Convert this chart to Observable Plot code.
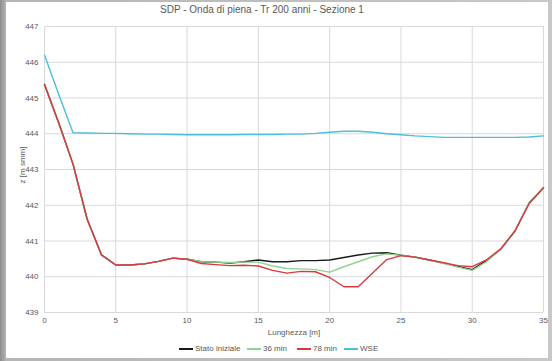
<!DOCTYPE html>
<html>
<head>
<meta charset="utf-8">
<script src="https://cdn.jsdelivr.net/npm/d3@7"></script>
<script src="https://cdn.jsdelivr.net/npm/@observablehq/plot@0.6"></script>
<style>
  html, body { margin: 0; padding: 0; }
  body { width: 552px; height: 361px; background: linear-gradient(to right, #8c8c8c 0px, #b5b5b5 6px, #c8c8c8 100%); position: relative; overflow: hidden; font-family: "Liberation Sans", Arial, sans-serif; }
  #card { position: absolute; left: 6px; top: 2px; width: 542px; height: 356px; background: #fff; }
  #title { position: absolute; left: 0; top: 4px; width: 524px; text-align: center; font-size: 10px; color: #595959; }
  #chart { position: absolute; left: 0; top: 20px; }
  #ylabel { position: absolute; left: 22px; top: 165px; transform: translate(-50%, -50%) rotate(-90deg); font-size: 8px; color: #595959; white-space: nowrap; }
  #xlabel { position: absolute; left: 294px; top: 328px; transform: translateX(-50%); font-size: 8px; color: #595959; white-space: nowrap; }
  #legend { position: absolute; left: 0; top: 344px; width: 552px; height: 12px; font-size: 8px; color: #595959; }
  .li { position: absolute; top: 0; display: flex; align-items: center; white-space: nowrap; }
  .sw { display: inline-block; width: 14px; height: 2px; margin-right: 2px; }
</style>
</head>
<body>
<div id="card"></div>
<div id="title">SDP - Onda di piena - Tr 200 anni - Sezione 1</div>
<div id="chart"></div>
<div id="ylabel">z [m smm]</div>
<div id="xlabel">Lunghezza [m]</div>
<div id="legend"></div>
<script>
const xs = [0,1,2,3,4,5,6,7,8,9,10,11,12,13,14,15,16,17,18,19,20,21,22,23,24,25,26,27,28,29,30,31,32,33,34,35];
const statoIniziale = [445.38,444.3,443.15,441.6,440.61,440.33,440.33,440.36,440.43,440.52,440.49,440.42,440.41,440.38,440.42,440.47,440.42,440.42,440.45,440.45,440.47,440.54,440.61,440.66,440.67,440.6,440.55,440.47,440.38,440.29,440.2,440.45,440.77,441.28,442.07,442.49];
const min36 = [445.38,444.3,443.15,441.6,440.61,440.33,440.33,440.36,440.43,440.52,440.49,440.42,440.41,440.4,440.41,440.41,440.3,440.23,440.22,440.2,440.13,440.28,440.42,440.56,440.64,440.6,440.55,440.47,440.37,440.27,440.18,440.42,440.77,441.28,442.07,442.49];
const min78 = [445.38,444.3,443.15,441.6,440.61,440.33,440.33,440.36,440.43,440.52,440.49,440.37,440.34,440.31,440.32,440.3,440.18,440.1,440.15,440.14,439.98,439.72,439.72,440.1,440.48,440.59,440.55,440.47,440.39,440.31,440.28,440.47,440.78,441.28,442.05,442.49];
const wse = [446.2,445.1,444.03,444.02,444.01,444.01,444.0,443.99,443.99,443.98,443.97,443.97,443.97,443.97,443.98,443.98,443.98,443.99,443.99,444.01,444.04,444.07,444.07,444.04,444.0,443.97,443.94,443.92,443.9,443.9,443.9,443.9,443.9,443.9,443.91,443.94];
const seriesNames = ["Stato iniziale", "36 min", "78 min", "WSE"];
const seriesColors = ["#1a1a1a", "#92d292", "#d9393e", "#4bbfdb"];
const xTicks = [0,5,10,15,20,25,30,35];
const yTicks = [439,440,441,442,443,444,445,446,447];

const allSeries = [statoIniziale, min36, min78, wse];
const rows = allSeries.flatMap((vals, i) => vals.map((v, j) => ({x: xs[j], z: v, s: seriesNames[i]})));

const chart = Plot.plot({
  width: 552,
  height: 320,
  marginLeft: 44,
  marginRight: 9,
  marginTop: 6,
  marginBottom: 28,
  style: {fontFamily: "'Liberation Sans', Arial, sans-serif", fontSize: "8px", color: "#595959", background: "transparent"},
  x: {domain: [0, 35], ticks: xTicks, tickSize: 0, tickPadding: 5, label: null},
  y: {domain: [439, 447], ticks: yTicks, tickSize: 0, tickPadding: 6, label: null},
  color: {domain: seriesNames, range: seriesColors},
  marks: [
    Plot.gridX(xTicks, {stroke: "#d9d9d9", strokeOpacity: 1}),
    Plot.gridY(yTicks, {stroke: "#d9d9d9", strokeOpacity: 1}),
    Plot.line(rows, {x: "x", y: "z", z: "s", stroke: "s", strokeWidth: 1.4})
  ]
});
document.getElementById("chart").appendChild(chart);

const legendPos = [179, 247, 297, 344];
const leg = document.getElementById("legend");
seriesNames.forEach((n, i) => {
  const d = document.createElement("div");
  d.className = "li";
  d.style.left = legendPos[i] + "px";
  d.innerHTML = `<span class="sw" style="background:${seriesColors[i]}"></span><span>${n}</span>`;
  leg.appendChild(d);
});
</script>
</body>
</html>
